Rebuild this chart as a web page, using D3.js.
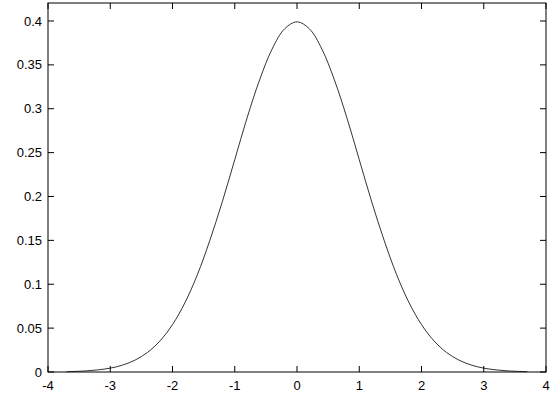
<!DOCTYPE html>
<html>
<head>
<meta charset="utf-8">
<script src="https://cdn.jsdelivr.net/npm/d3@7"></script>
<style>
body { margin: 0; background: #fff; }
text { font-family: "Liberation Sans", Arial, sans-serif; font-size: 13px; fill: #000; }
</style>
</head>
<body>
<svg width="551" height="400"></svg>
<script>
// values
const xs = [-3.7, -3.6, -3.4, -3.2, -3.0, -2.8, -2.6, -2.4, -2.2, -2.0, -1.8, -1.6, -1.4, -1.2, -1.0, -0.8, -0.6, -0.4, -0.2, 0,
            0.2, 0.4, 0.6, 0.8, 1.0, 1.2, 1.4, 1.6, 1.8, 2.0, 2.2, 2.4, 2.6, 2.8, 3.0, 3.2, 3.4, 3.6, 3.7];
const ys = [0.0004, 0.0006, 0.0012, 0.0024, 0.0044, 0.0079, 0.0136, 0.0224, 0.0355, 0.054, 0.079, 0.111, 0.150, 0.194, 0.242, 0.290, 0.333, 0.368, 0.391, 0.399,
            0.391, 0.368, 0.333, 0.290, 0.242, 0.194, 0.150, 0.111, 0.079, 0.054, 0.0355, 0.0224, 0.0136, 0.0079, 0.0044, 0.0024, 0.0012, 0.0006, 0.0004];
const xTicks = [-4, -3, -2, -1, 0, 1, 2, 3, 4];
const yTicks = [0, 0.05, 0.1, 0.15, 0.2, 0.25, 0.3, 0.35, 0.4];

const svg = d3.select("svg");
const mLeft = 48, mRight = 546, mTop = 3, mBottom = 372;

const x = d3.scaleLinear().domain([-4, 4]).range([mLeft, mRight]);
const y = d3.scaleLinear().domain([0, 0.4205]).range([mBottom, mTop]);

// frame
svg.append("rect").attr("x", mLeft).attr("y", mTop)
   .attr("width", mRight - mLeft).attr("height", mBottom - mTop)
   .attr("fill", "none").attr("stroke", "#000").attr("stroke-width", 1);

const tl = 6;
const g = svg.append("g").attr("stroke", "#000").attr("stroke-width", 1);
xTicks.forEach(t => {
  g.append("line").attr("x1", x(t)).attr("x2", x(t)).attr("y1", mBottom).attr("y2", mBottom - tl);
  g.append("line").attr("x1", x(t)).attr("x2", x(t)).attr("y1", mTop).attr("y2", mTop + tl);
});
yTicks.forEach(t => {
  g.append("line").attr("x1", mLeft).attr("x2", mLeft + tl).attr("y1", y(t)).attr("y2", y(t));
  g.append("line").attr("x1", mRight).attr("x2", mRight - tl).attr("y1", y(t)).attr("y2", y(t));
});

svg.append("g").selectAll("text").data(xTicks).join("text")
   .attr("x", d => x(d)).attr("y", mBottom + 18).attr("text-anchor", "middle")
   .text(d => d);
svg.append("g").selectAll("text").data(yTicks).join("text")
   .attr("x", mLeft - 6).attr("y", d => y(d)).attr("dy", "0.35em").attr("text-anchor", "end")
   .text(d => d);

const line = d3.line().x((d, i) => x(xs[i])).y(d => y(d)).curve(d3.curveCatmullRom);
svg.append("path").attr("d", line(ys)).attr("fill", "none")
   .attr("stroke", "#000").attr("stroke-width", 0.8);
</script>
</body>
</html>
